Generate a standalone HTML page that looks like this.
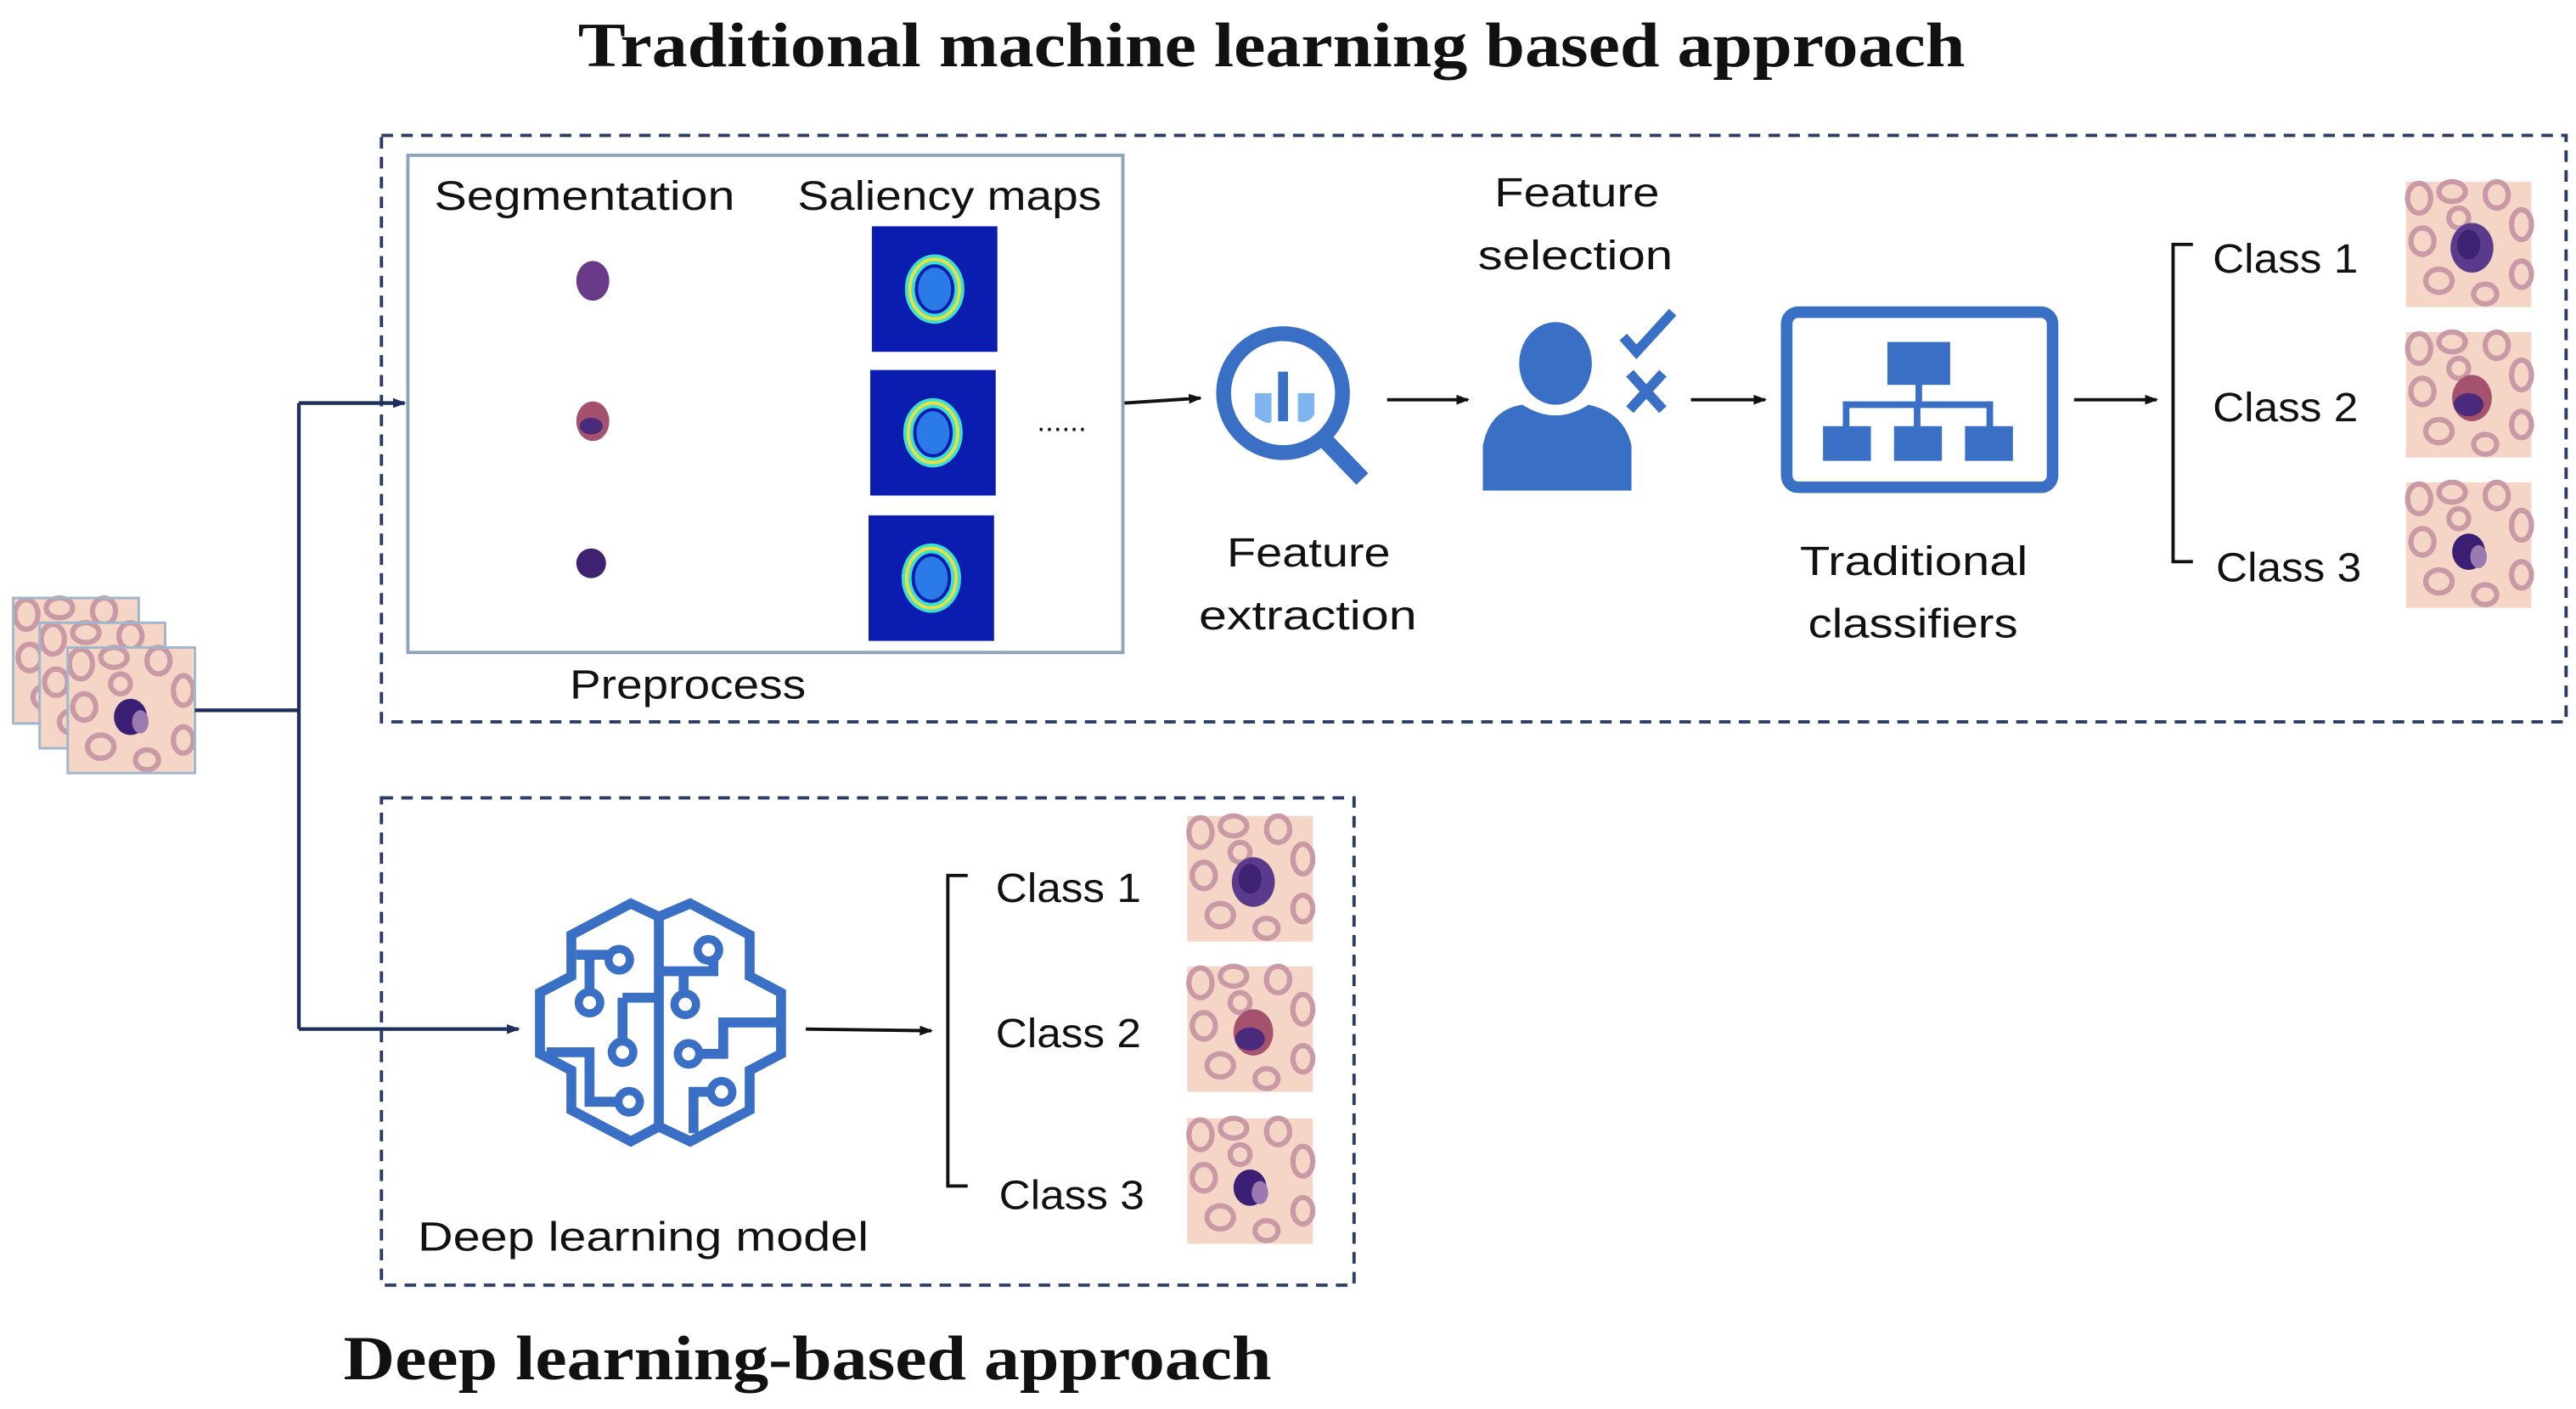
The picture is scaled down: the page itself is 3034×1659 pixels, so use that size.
<!DOCTYPE html>
<html><head><meta charset="utf-8"><style>
html,body{margin:0;padding:0;background:#fff;}
svg{display:block;}
text{font-family:"Liberation Sans",sans-serif;fill:#111;}
.t{font-family:"Liberation Serif",serif;font-weight:bold;}
</style></head><body>
<svg width="3034" height="1659" viewBox="0 0 1560 853" preserveAspectRatio="none" xmlns="http://www.w3.org/2000/svg">
<defs>
<marker id="ah" markerWidth="8" markerHeight="8" refX="7" refY="4" orient="auto" markerUnits="userSpaceOnUse"><path d="M0,1 L8,4 L0,7 Z" fill="#111"/></marker>
<marker id="ahb" markerWidth="8" markerHeight="8" refX="7" refY="4" orient="auto" markerUnits="userSpaceOnUse"><path d="M0,1 L8,4 L0,7 Z" fill="#1f2f5c"/></marker>
<g id="bg">
<rect x="0" y="0" width="76" height="76" fill="#f4d5c6"/>
<g fill="none" stroke="#c99aa6" stroke-width="3.2">
<ellipse cx="8" cy="10" rx="7" ry="9"/><ellipse cx="28" cy="6" rx="8" ry="6"/><ellipse cx="55" cy="8" rx="7" ry="8"/>
<ellipse cx="70" cy="26" rx="6" ry="9"/><ellipse cx="10" cy="36" rx="7" ry="8"/><ellipse cx="20" cy="60" rx="8" ry="7"/>
<ellipse cx="48" cy="68" rx="7" ry="6"/><ellipse cx="70" cy="56" rx="6" ry="8"/><ellipse cx="32" cy="22" rx="6" ry="6"/>
</g></g>
<g id="th1"><use href="#bg"/><ellipse cx="40" cy="40" rx="13" ry="15" fill="#5a3a8c"/><ellipse cx="38" cy="38" rx="7" ry="9" fill="#3e2470"/></g>
<g id="th2"><use href="#bg"/><ellipse cx="40" cy="40" rx="12" ry="14" fill="#a4526e"/><ellipse cx="38" cy="44" rx="9" ry="7" fill="#4a2a7a"/></g>
<g id="th3"><use href="#bg"/><ellipse cx="38" cy="42" rx="10" ry="11" fill="#3a1f74"/><ellipse cx="44" cy="45" rx="5" ry="7" fill="#9a7ab0"/></g>
<g id="sal"><rect x="0" y="0" width="76" height="76" fill="#0b1db0"/><ellipse cx="38" cy="38" rx="15" ry="18" fill="none" stroke="#3fe0d0" stroke-width="6"/><ellipse cx="38" cy="38" rx="15" ry="18" fill="none" stroke="#e8e040" stroke-width="2"/><ellipse cx="38" cy="38" rx="10" ry="13" fill="#2a7ae8"/></g>
</defs>

<text class="t" x="770" y="40" font-size="38" text-anchor="middle" textLength="840" lengthAdjust="spacingAndGlyphs">Traditional machine learning based approach</text>
<text class="t" x="208" y="835" font-size="38" textLength="562" lengthAdjust="spacingAndGlyphs">Deep learning-based approach</text>

<!-- dashed boxes -->
<rect x="231" y="82" width="1323" height="355" fill="none" stroke="#2b3d66" stroke-width="2" stroke-dasharray="7,5"/>
<rect x="231" y="483" width="589" height="295" fill="none" stroke="#2b3d66" stroke-width="2" stroke-dasharray="7,5"/>

<!-- preprocess -->
<rect x="247" y="94" width="433" height="301" fill="none" stroke="#8ea4b8" stroke-width="2"/>
<text x="263" y="127" font-size="25" textLength="182" lengthAdjust="spacingAndGlyphs">Segmentation</text>
<text x="483" y="127" font-size="25" textLength="184" lengthAdjust="spacingAndGlyphs">Saliency maps</text>
<text x="345" y="423" font-size="25" textLength="143" lengthAdjust="spacingAndGlyphs">Preprocess</text>
<ellipse cx="359" cy="170" rx="10" ry="12" fill="#6a3a8a"/>
<ellipse cx="359" cy="255" rx="10" ry="12" fill="#a4506e"/><ellipse cx="358" cy="258" rx="7" ry="5" fill="#4a2a7a"/>
<ellipse cx="358" cy="341" rx="9" ry="9" fill="#3e2170"/>
<use href="#sal" x="528" y="137"/>
<use href="#sal" x="527" y="224"/>
<use href="#sal" x="526" y="312"/>
<text x="628" y="261" font-size="18">......</text>

<!-- input stack -->
<use href="#bg" x="8" y="362"/><rect x="8" y="362" width="76" height="76" fill="none" stroke="#9fb6cc" stroke-width="1.5"/>
<use href="#bg" x="24" y="377"/><rect x="24" y="377" width="76" height="76" fill="none" stroke="#9fb6cc" stroke-width="1.5"/>
<use href="#th3" x="41" y="392"/><rect x="41" y="392" width="77" height="76" fill="none" stroke="#9fb6cc" stroke-width="1.5"/>

<g stroke="#1f2f5c" stroke-width="2.2" fill="none">
<path d="M118,430 H181 M181,244 V623"/>
<path d="M181,244 H245" marker-end="url(#ahb)"/>
<path d="M181,623 H314" marker-end="url(#ahb)"/>
</g>

<g stroke="#111" stroke-width="2" fill="none">
<path d="M681,244 L727,241" marker-end="url(#ah)"/>
<path d="M840,242 H889" marker-end="url(#ah)"/>
<path d="M1024,242 H1069" marker-end="url(#ah)"/>
<path d="M1256,242 H1306" marker-end="url(#ah)"/>
<path d="M1328,148 H1316 V340 H1328"/>
<path d="M488,623 L564,624" marker-end="url(#ah)"/>
<path d="M586,530 H574 V718 H586"/>
</g>

<!-- magnifier -->
<g fill="none" stroke="#3a6fc6">
<circle cx="777" cy="238" r="36" stroke-width="9"/>
<path d="M802,266 L825,290" stroke-width="10"/>
</g>
<rect x="774" y="225" width="6" height="30" fill="#3a6fc6"/>
<path d="M760,238 v14 q8,6 10,3 v-17z M786,238 v17 q6,2 10,-4 v-13z" fill="#7fb5ee"/>

<!-- feature selection -->
<text x="905" y="125" font-size="25" textLength="100" lengthAdjust="spacingAndGlyphs">Feature</text>
<text x="895" y="163" font-size="25" textLength="118" lengthAdjust="spacingAndGlyphs">selection</text>
<ellipse cx="942" cy="220" rx="22" ry="25" fill="#3a6fc6"/>
<path d="M898,297 V270 Q902,248 922,245 Q942,258 962,245 Q984,250 988,270 V297 Z" fill="#3a6fc6"/>
<path d="M983,204 L991,213 L1013,189" fill="none" stroke="#3a6fc6" stroke-width="6"/>
<path d="M987,226 L1007,248 M1007,226 L987,248" stroke="#3a6fc6" stroke-width="6"/>

<text x="743" y="343" font-size="25" textLength="99" lengthAdjust="spacingAndGlyphs">Feature</text>
<text x="726" y="381" font-size="25" textLength="132" lengthAdjust="spacingAndGlyphs">extraction</text>

<!-- classifier -->
<rect x="1082" y="189" width="161" height="106" rx="7" fill="none" stroke="#3a6fc6" stroke-width="7"/>
<g fill="#3a6fc6">
<rect x="1143" y="207" width="38" height="26"/>
<rect x="1160" y="232" width="4" height="14"/>
<rect x="1116" y="243" width="91" height="4"/>
<rect x="1116" y="243" width="4" height="16"/><rect x="1159" y="243" width="4" height="16"/><rect x="1203" y="243" width="4" height="16"/>
<rect x="1104" y="258" width="29" height="21"/><rect x="1147" y="258" width="29" height="21"/><rect x="1190" y="258" width="29" height="21"/>
</g>
<text x="1090" y="348" font-size="25" textLength="138" lengthAdjust="spacingAndGlyphs">Traditional</text>
<text x="1095" y="386" font-size="25" textLength="127" lengthAdjust="spacingAndGlyphs">classifiers</text>

<text x="1340" y="165" font-size="25" textLength="88" lengthAdjust="spacingAndGlyphs">Class 1</text>
<text x="1340" y="255" font-size="25" textLength="88" lengthAdjust="spacingAndGlyphs">Class 2</text>
<text x="1342" y="352" font-size="25" textLength="88" lengthAdjust="spacingAndGlyphs">Class 3</text>
<use href="#th1" x="1457" y="110"/>
<use href="#th2" x="1457" y="201"/>
<use href="#th3" x="1457" y="292"/>

<!-- brain -->
<g fill="none" stroke="#3a6fc6" stroke-width="6" stroke-linejoin="miter">
<path d="M399,555 L382,547 L346,566 V591 L327,601 V638 L346,648 V672 L382,691 L399,682 L418,691 L454,672 V648 L473,638 V601 L454,591 V566 L418,547 Z"/>
<path d="M399,555 V682"/>
<path d="M349,578 H368 M357,578 V600 M377,604 H399 M377,604 V630 M331,637 H357 V667 H373"/>
<path d="M399,588 H432 V582 M414,588 V601 M424,638 H438 V619 H471 M430,661 H420 V686"/>
</g>
<g fill="#fff" stroke="#3a6fc6" stroke-width="5">
<circle cx="375" cy="581" r="6.5"/><circle cx="357" cy="607" r="6.5"/><circle cx="377" cy="637" r="6.5"/><circle cx="381" cy="667" r="6.5"/>
<circle cx="429" cy="575" r="6.5"/><circle cx="415" cy="608" r="6.5"/><circle cx="417" cy="638" r="6.5"/><circle cx="437" cy="661" r="6.5"/>
</g>
<text x="253" y="757" font-size="25" textLength="273" lengthAdjust="spacingAndGlyphs">Deep learning model</text>

<text x="603" y="546" font-size="25" textLength="88" lengthAdjust="spacingAndGlyphs">Class 1</text>
<text x="603" y="634" font-size="25" textLength="88" lengthAdjust="spacingAndGlyphs">Class 2</text>
<text x="605" y="732" font-size="25" textLength="88" lengthAdjust="spacingAndGlyphs">Class 3</text>
<use href="#th1" x="719" y="494"/>
<use href="#th2" x="719" y="585"/>
<use href="#th3" x="719" y="677"/>
</svg>
</body></html>
